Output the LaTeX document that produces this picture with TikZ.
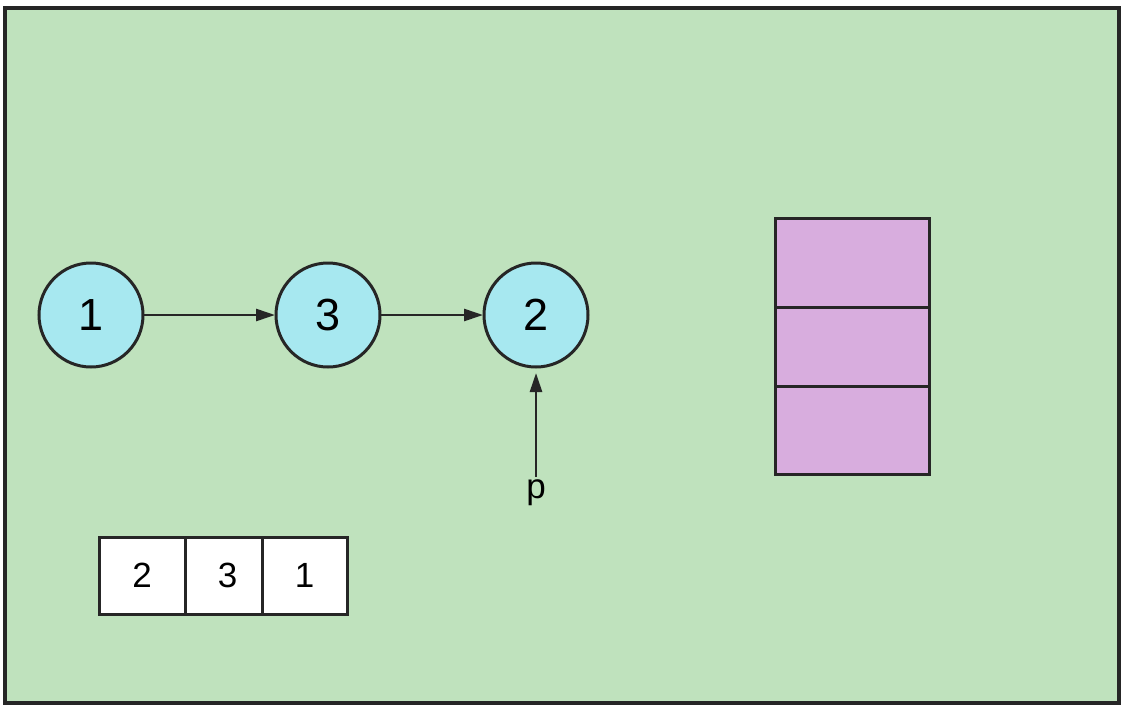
\documentclass[tikz,border=0pt]{standalone}
\usepackage{fontspec}
\setmainfont{Liberation Sans}
\usepackage{xcolor}
\usetikzlibrary{arrows.meta,positioning}
\definecolor{panelgreen}{HTML}{BFE2BD}
\definecolor{nodecyan}{HTML}{A7E8F0}
\definecolor{stackpurple}{HTML}{D8ADDE}
\definecolor{inkgray}{HTML}{262626}
\tikzset{
  panel/.style={draw=inkgray,fill=panelgreen,line width=3.4pt},
  listnode/.style={circle,draw=inkgray,fill=nodecyan,line width=3pt,outer sep=0pt,
    minimum size=104pt,inner sep=0pt,font=\fontsize{45}{49}\selectfont},
  arraycell/.style={draw=inkgray,fill=white,line width=3pt,outer sep=0pt,
    minimum height=77pt,inner sep=0pt,font=\fontsize{35}{39}\selectfont},
  stackcell/.style={draw=inkgray,fill=stackpurple,line width=3pt,outer sep=0pt,
    minimum width=154pt,inner sep=0pt},
  linkarrow/.style={-{Triangle[length=19pt,width=12pt]},line width=2.6pt,draw=inkgray},
  ptrlabel/.style={font=\fontsize{35}{39}\selectfont,inner sep=0pt}
}

\begin{document}
\begin{tikzpicture}[x=1pt,y=-1pt]
  \useasboundingbox (0,0) rectangle (1124,710);
  \draw[panel] (5,8) rectangle (1119,703);
  % linked list
  \node[listnode] (one) at (91,315) {1};
  \node[listnode,right=133pt of one] (three) {3};
  \node[listnode,right=104pt of three] (two) {2};
  \draw[linkarrow,shorten >=1pt] (one) -- (three);
  \draw[linkarrow,shorten >=1pt] (three) -- (two);
  % pointer p
  \node[ptrlabel,anchor=base] (p) at (two |- 0,498) {p};
  \draw[linkarrow,shorten >=6pt,shorten <=2pt] (p) -- (two);
  % array
  \node[arraycell,minimum width=86pt,anchor=north west] (cellA) at (99,537) {2};
  \node[arraycell,minimum width=77pt,right=0pt of cellA] (cellB) {\hspace*{8pt}3};
  \node[arraycell,minimum width=85pt,right=0pt of cellB] (cellC) {1};
  % stack
  \node[stackcell,minimum height=89pt,anchor=north west] (slotA) at (775,218) {};
  \node[stackcell,minimum height=79pt,below=0pt of slotA] (slotB) {};
  \node[stackcell,minimum height=88pt,below=0pt of slotB] (slotC) {};
\end{tikzpicture}
\end{document}
